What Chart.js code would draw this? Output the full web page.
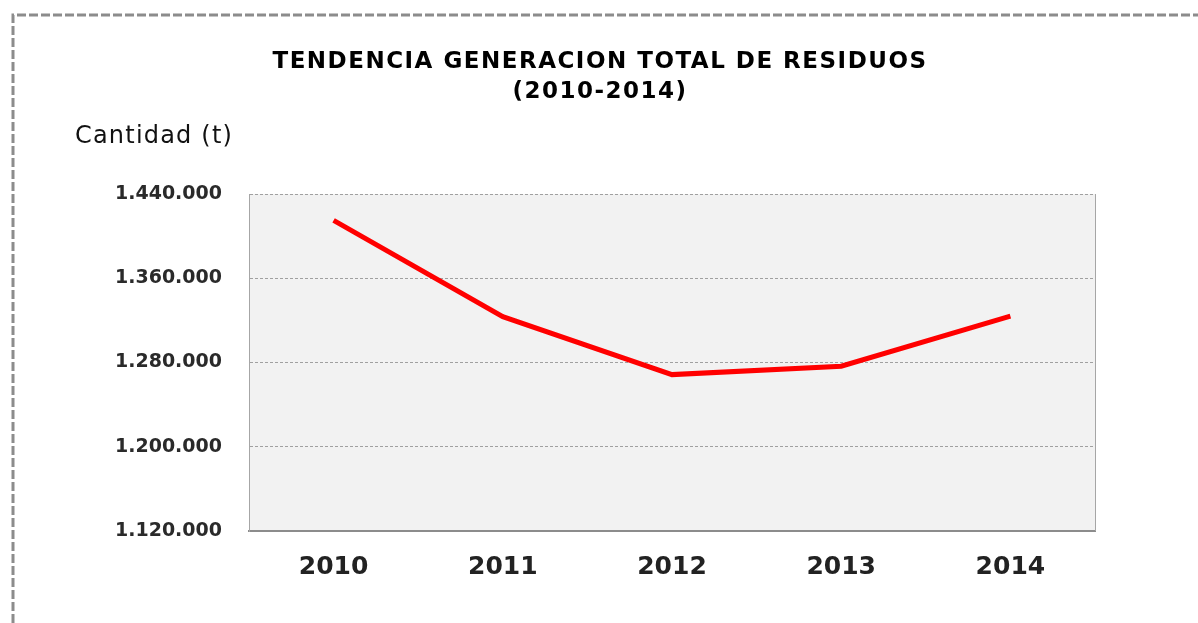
<!DOCTYPE html>
<html>
<head>
<meta charset="utf-8">
<script src="https://cdn.jsdelivr.net/npm/chart.js@4"></script>
<style>
  html, body { margin: 0; padding: 0; background: #fff; }
  #wrap { width: 1198px; height: 623px; position: relative; }
</style>
</head>
<body>
<div id="wrap"><canvas id="residuos-chart" width="1198" height="623"></canvas></div>
<script>
// Data
const years = ['2010', '2011', '2012', '2013', '2014'];
const cantidad = [1415000, 1323500, 1268500, 1276500, 1324000];
const yTicks = [1120000, 1200000, 1280000, 1360000, 1440000];
const titleLines = ['TENDENCIA GENERACION TOTAL DE RESIDUOS', '(2010-2014)'];
const yLabel = 'Cantidad (t)';

// format 1440000 -> 1.440.000
function formatThousands(v) {
  return String(Math.round(v)).replace(/\B(?=(\d{3})+(?!\d))/g, '.');
}

// background, frame and texts
const decorPlugin = {
  id: 'decor',
  beforeDraw(chart) {
    const ctx = chart.ctx;
    const a = chart.chartArea;
    ctx.save();
    ctx.fillStyle = '#fff';
    ctx.fillRect(0, 0, chart.width, chart.height);

    // dashed outer frame (top and left only)
    ctx.strokeStyle = '#8c8c8c';
    ctx.lineWidth = 3;
    ctx.setLineDash([9, 3]);
    ctx.beginPath();
    ctx.moveTo(13, 623);
    ctx.lineTo(13, 15);
    ctx.lineTo(1198, 15);
    ctx.stroke();
    ctx.setLineDash([]);

    // plot area fill
    ctx.fillStyle = '#f2f2f2';
    ctx.fillRect(a.left, a.top, a.right - a.left, a.bottom - a.top);

    // titles
    ctx.fillStyle = '#000';
    ctx.textAlign = 'center';
    ctx.textBaseline = 'middle';
    ctx.font = 'bold 23px "DejaVu Sans"';
    ctx.letterSpacing = '1.5px';
    ctx.fillText(titleLines[0], 600, 62);
    ctx.fillText(titleLines[1], 600, 92);

    ctx.textAlign = 'left';
    ctx.font = '24px "DejaVu Sans"';
    ctx.letterSpacing = '1.2px';
    ctx.fillStyle = '#111';
    ctx.fillText(yLabel, 75, 137);
    ctx.restore();
  },
  afterDraw(chart) {
    const ctx = chart.ctx;
    const a = chart.chartArea;
    ctx.save();
    ctx.strokeStyle = '#a6a6a6';
    ctx.lineWidth = 1;
    ctx.beginPath();
    ctx.moveTo(a.right + 0.5, a.top);
    ctx.lineTo(a.right + 0.5, a.bottom);
    ctx.stroke();
    ctx.restore();
  }
};

const ctx = document.getElementById('residuos-chart');
new Chart(ctx, {
  type: 'line',
  data: {
    labels: years,
    datasets: [{
      label: 'Cantidad',
      data: cantidad,
      borderColor: '#ff0000',
      borderWidth: 5,
      pointRadius: 0,
      tension: 0,
      fill: false
    }]
  },
  options: {
    responsive: false,
    animation: false,
    layout: { padding: { left: 99, top: 194, right: 103, bottom: 0 } },
    plugins: {
      legend: { display: false },
      title: { display: false },
      tooltip: { enabled: false }
    },
    scales: {
      x: {
        offset: true,
        grid: { display: false, offset: true },
        border: { display: true, color: '#8c8c8c', width: 2 },
        ticks: {
          color: '#222',
          font: { family: 'DejaVu Sans', size: 25, weight: 'bold' },
          padding: 13
        },
        afterFit(scale) { scale.height = 92; }
      },
      y: {
        min: 1120000,
        max: 1440000,
        afterBuildTicks(scale) { scale.ticks = yTicks.map(v => ({ value: v })); },
        grid: {
          color: '#a0a0a0',
          lineWidth: 1,
          drawTicks: false
        },
        border: { display: true, color: '#a6a6a6', width: 1, dash: [3, 2] },
        ticks: {
          color: '#2a2a2a',
          font: { family: 'DejaVu Sans', size: 19, weight: 'bold' },
          padding: 27,
          callback: v => formatThousands(v)
        },
        afterFit(scale) { scale.width = 150; }
      }
    }
  },
  plugins: [decorPlugin]
});
</script>
</body>
</html>
